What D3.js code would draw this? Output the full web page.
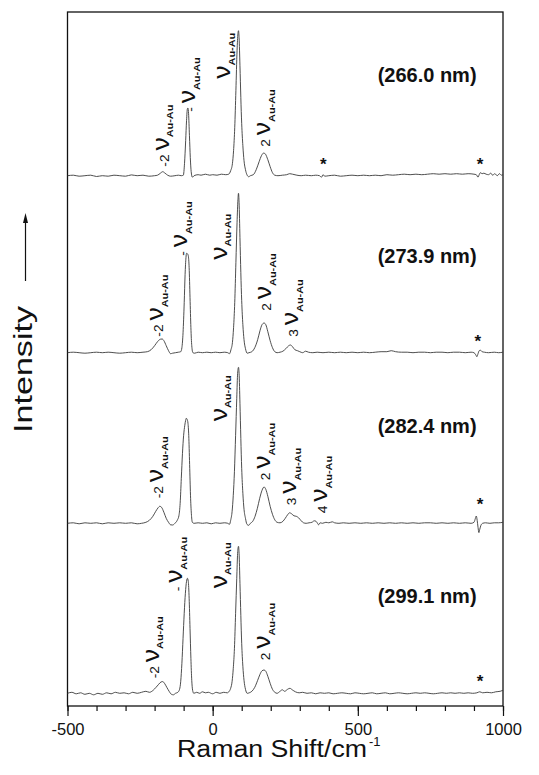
<!DOCTYPE html>
<html><head><meta charset="utf-8">
<script src="https://cdn.jsdelivr.net/npm/d3@7/dist/d3.min.js"></script>
<style>
html,body{margin:0;padding:0;background:#fff;}
svg{display:block;font-family:"Liberation Sans",Arial,Helvetica,sans-serif;}
</style></head>
<body><svg id="c" width="539" height="775"></svg>
<script>
// ---------- data ----------
const wavelengths = ["(266.0 nm)", "(273.9 nm)", "(282.4 nm)", "(299.1 nm)"];
const offsets = [5.303, 3.533, 1.827, 0.127];   // vertical stacking offsets (a.u.)
const wlHeights = [0.937, 0.897, 0.903, 0.903]; // wavelength label height above each baseline
const majorTicks = [-500, 0, 500, 1000];
const minorTicks = [-500,-400,-300,-200,-100,0,100,200,300,400,500,600,700,800,900,1000];

// [Raman shift (cm-1), intensity above baseline (a.u.)]
const spec266 = [[-500,0],[-480,0.005],[-460,-0.005],[-440,0],[-420,0.005],[-400,-0.008],[-380,0],[-360,-0.005],[-340,0.005],[-320,0],[-300,-0.005],[-280,0.008],[-260,0],[-240,0.005],[-220,-0.005],[-200,0],[-190,0.005],[-180,0.025],[-172,0.04],[-164,0.025],[-155,0.005],[-145,-0.005],[-130,0],[-118,0.005],[-108,0],[-101,0.005],[-97,0.12],[-93,0.35],[-90,0.55],[-87,0.67],[-85,0.677],[-83,0.62],[-80,0.4],[-77,0.18],[-74,0.04],[-70,-0.015],[-64,0],[-50,0.01],[-40,0.005],[-25,0.015],[-10,0.005],[0,0.01],[15,0.005],[30,0.015],[45,0.01],[55,0.015],[62,0.05],[68,0.12],[72,0.25],[76,0.48],[80,0.85],[84,1.25],[87,1.42],[89,1.45],[91,1.38],[94,1.1],[97,0.78],[100,0.52],[104,0.3],[108,0.15],[113,0.06],[118,0.01],[124,-0.01],[130,0],[140,0.01],[150,0.06],[160,0.14],[168,0.2],[176,0.227],[182,0.215],[190,0.16],[198,0.09],[206,0.03],[214,0.005],[225,0],[240,0.005],[255,0.01],[265,0.02],[275,0.015],[290,0.005],[305,0],[320,0.005],[340,0],[355,0.005],[368,0],[375,-0.015],[380,0.01],[386,-0.005],[400,0],[420,0.005],[440,-0.005],[460,0],[480,0.005],[500,0],[520,0.005],[540,0],[560,0.005],[580,0],[600,0.01],[620,0.005],[640,0.01],[660,0.015],[680,0.01],[700,0.015],[720,0.01],[740,0.015],[760,0.02],[780,0.015],[800,0.02],[820,0.015],[840,0.02],[860,0.015],[880,0.02],[900,0.015],[908,0.01],[914,-0.015],[918,0.01],[922,0.03],[928,0.02],[934,0.025],[942,0.015],[950,0.01],[958,0.025],[964,0.005],[972,0.02],[980,0],[988,0.02],[995,0.005],[1000,0.01]];

const spec273 = [[-500,0],[-480,0.005],[-460,0],[-440,-0.005],[-420,0],[-400,0.005],[-380,0],[-360,0.005],[-340,0],[-320,-0.005],[-300,0],[-280,0.005],[-260,0],[-240,0.005],[-225,0.01],[-212,0.03],[-200,0.07],[-190,0.11],[-180,0.135],[-174,0.137],[-168,0.12],[-160,0.07],[-152,0.02],[-145,-0.01],[-138,-0.005],[-128,0],[-118,0.005],[-110,0.01],[-106,0.05],[-102,0.2],[-98,0.5],[-95,0.78],[-92,0.95],[-90,0.994],[-87,0.99],[-84,0.97],[-81,0.85],[-78,0.55],[-75,0.25],[-72,0.07],[-68,0],[-62,-0.005],[-50,0.005],[-35,0],[-20,0.005],[-5,0],[10,0.005],[25,0],[40,0.005],[52,0],[58,-0.01],[63,0.03],[68,0.1],[72,0.25],[76,0.5],[80,0.9],[84,1.3],[87,1.53],[89,1.594],[91,1.5],[94,1.15],[97,0.8],[100,0.52],[104,0.28],[108,0.13],[113,0.04],[119,-0.005],[125,0],[135,0.01],[145,0.05],[155,0.13],[163,0.22],[170,0.28],[177,0.297],[183,0.28],[190,0.21],[198,0.12],[206,0.05],[214,0.01],[222,0],[232,0.005],[242,0.015],[252,0.04],[262,0.07],[268,0.077],[275,0.06],[283,0.03],[292,0.02],[300,0.01],[310,0],[320,0.015],[330,0.005],[345,0],[360,0.005],[380,0],[400,0.005],[420,0],[440,0.005],[460,0],[480,0.005],[500,0],[520,0.005],[540,0],[560,0.005],[580,0.01],[600,0.01],[615,0.02],[630,0.01],[650,0.005],[670,0.005],[690,0],[710,0.005],[730,0.005],[750,0],[770,0.005],[790,0.005],[810,0],[830,0.005],[850,0.005],[870,0],[890,0.005],[900,0],[906,-0.02],[910,-0.04],[914,-0.01],[918,0.02],[922,0.025],[928,0.01],[936,0.005],[950,0],[970,0.005],[985,0],[1000,0.005]];

const spec282 = [[-500,0],[-480,0.005],[-460,-0.005],[-440,0.005],[-420,0],[-400,0.005],[-380,-0.005],[-360,0.005],[-340,0],[-320,0.005],[-300,0],[-280,0.005],[-260,-0.005],[-245,0],[-230,0.01],[-218,0.03],[-206,0.07],[-196,0.12],[-188,0.155],[-182,0.17],[-176,0.16],[-168,0.11],[-160,0.05],[-152,0.01],[-145,-0.015],[-138,-0.017],[-130,0],[-122,0.03],[-116,0.08],[-112,0.2],[-108,0.45],[-104,0.7],[-100,0.88],[-96,0.98],[-93,1.03],[-91,1.05],[-88,1.04],[-85,1.0],[-82,0.85],[-79,0.55],[-76,0.25],[-73,0.08],[-70,0.01],[-64,0],[-50,0.005],[-35,0],[-20,0.005],[-5,-0.005],[10,0.005],[25,0],[40,0.005],[52,0],[58,-0.01],[62,0.03],[67,0.12],[71,0.28],[75,0.52],[79,0.88],[83,1.25],[86,1.5],[89,1.56],[91,1.5],[94,1.2],[97,0.85],[100,0.55],[104,0.3],[108,0.14],[113,0.05],[118,-0.01],[124,-0.02],[130,0],[138,0.02],[146,0.07],[154,0.15],[162,0.25],[170,0.33],[177,0.363],[183,0.34],[190,0.27],[198,0.17],[206,0.09],[214,0.035],[222,0.01],[232,0.005],[242,0.02],[250,0.05],[258,0.085],[265,0.105],[272,0.095],[280,0.075],[288,0.07],[296,0.055],[305,0.025],[313,0.005],[322,0],[332,0.005],[342,0.01],[350,0.025],[356,0.02],[360,0.005],[365,-0.015],[370,0.005],[378,0],[390,0.01],[400,0.005],[412,0.015],[420,0.005],[435,0],[450,0.005],[470,0],[490,0.005],[510,0],[530,0.005],[550,0],[570,0.005],[590,0],[610,0.005],[630,0],[650,0.005],[670,0],[690,0.005],[710,0],[730,0.005],[750,0.005],[770,0],[790,0.005],[810,0],[830,0.005],[850,0],[870,0.005],[890,0],[900,0.01],[905,0.05],[908,0.073],[911,0.03],[914,-0.04],[917,-0.093],[920,-0.06],[924,-0.02],[930,0],[940,0.005],[955,0],[970,0.005],[985,0.005],[1000,0.01]];

const spec299 = [[-500,0],[-485,0.01],[-470,-0.005],[-455,0.005],[-440,-0.01],[-425,0],[-410,-0.015],[-395,0],[-380,-0.01],[-365,0.005],[-350,-0.005],[-335,0.01],[-320,0],[-305,0.005],[-290,-0.005],[-275,0.01],[-260,0],[-245,0.01],[-230,0.02],[-218,0.01],[-205,0.03],[-195,0.06],[-186,0.09],[-178,0.113],[-172,0.117],[-166,0.1],[-158,0.06],[-150,0.02],[-142,-0.01],[-135,-0.015],[-128,0],[-120,0.01],[-114,0.04],[-110,0.12],[-106,0.3],[-102,0.55],[-98,0.8],[-94,1.0],[-90,1.12],[-87,1.15],[-84,1.12],[-81,0.95],[-78,0.65],[-75,0.35],[-72,0.13],[-69,0.03],[-65,0],[-55,0.01],[-45,0],[-35,0.015],[-25,0.005],[-15,0.01],[0,-0.005],[12,0.01],[25,0],[38,0.01],[50,0.005],[57,0.02],[62,0.05],[67,0.12],[71,0.25],[75,0.45],[79,0.8],[83,1.15],[86,1.4],[89,1.47],[91,1.4],[94,1.1],[97,0.78],[100,0.5],[104,0.27],[108,0.13],[113,0.04],[119,0],[126,0.005],[135,0.02],[145,0.06],[155,0.13],[163,0.19],[170,0.225],[177,0.233],[183,0.22],[190,0.17],[198,0.1],[206,0.04],[214,0.01],[222,0],[232,0.02],[240,0.035],[248,0.02],[258,0.04],[266,0.05],[274,0.035],[285,0.015],[298,0.005],[310,0.01],[325,0],[340,0.005],[355,-0.005],[370,0.005],[385,0],[400,0.005],[415,-0.005],[430,0],[445,0.005],[460,0],[475,-0.005],[490,0.005],[505,0],[520,-0.005],[535,0],[550,0.005],[565,-0.005],[580,0],[595,0.005],[610,-0.005],[625,0],[640,0.005],[655,0],[670,-0.005],[685,0],[700,0.005],[715,0],[730,0.005],[745,0],[760,-0.005],[775,0],[790,0.005],[805,0],[820,0.005],[835,0],[850,0.005],[865,0],[880,0.005],[895,0],[910,0.005],[920,0.015],[930,0.005],[945,0.01],[960,0.005],[975,0.015],[990,0.02],[1000,0.03]];

const spectra = [spec266, spec273, spec282, spec299];

// peak annotations: spectrum index, prefix, shift (baseline of rotated text), height where text starts
const peakLabels = [
  {s:0, pre:"-2 ", x:-152, y:0.09},
  {s:0, pre:"- ",  x:-60,  y:0.64},
  {s:0, pre:"",    x:61,   y:0.97},
  {s:0, pre:"2 ",  x:198,  y:0.29},
  {s:1, pre:"-2 ", x:-170, y:0.16},
  {s:1, pre:"- ",  x:-88,  y:0.97},
  {s:1, pre:"",    x:49,   y:0.93},
  {s:1, pre:"2 ",  x:201,  y:0.42},
  {s:1, pre:"3 ",  x:294,  y:0.16},
  {s:2, pre:"-2 ", x:-170, y:0.25},
  {s:2, pre:"",    x:49,   y:1.02},
  {s:2, pre:"2 ",  x:198,  y:0.43},
  {s:2, pre:"3 ",  x:288,  y:0.18},
  {s:2, pre:"4 ",  x:395,  y:0.10},
  {s:3, pre:"-2 ", x:-186, y:0.15},
  {s:3, pre:"- ",  x:-105, y:1.02},
  {s:3, pre:"",    x:49,   y:1.05},
  {s:3, pre:"2 ",  x:198,  y:0.33}
];
const stars = [
  {s:0, x:381, y:0.157}, {s:0, x:921, y:0.157},
  {s:1, x:913, y:0.16},
  {s:2, x:921, y:0.233},
  {s:3, x:921, y:0.166}
];
const wlShift = 909;   // right edge of wavelength labels (cm-1)

// ---------- chart ----------
const svg = d3.select("#c");
const x = d3.scaleLinear().domain([-500, 1000]).range([67.5, 503]);
const y = d3.scaleLinear().domain([0, 6.94]).range([706, 12]);

// frame
svg.append("rect").attr("x", x(-500)).attr("y", y(6.94))
  .attr("width", x(1000) - x(-500)).attr("height", y(0) - y(6.94))
  .attr("fill", "none").attr("stroke", "#111").attr("stroke-width", 1.3);

// axes
const minor = svg.append("g").attr("transform", `translate(0,${y(0)})`)
  .call(d3.axisBottom(x).tickValues(minorTicks).tickSize(5).tickFormat(""));
const major = svg.append("g").attr("transform", `translate(0,${y(0)})`)
  .call(d3.axisBottom(x).tickValues(majorTicks).tickSize(10).tickPadding(7).tickFormat(d => String(d)));
[minor, major].forEach(g => {
  g.select(".domain").remove();
  g.selectAll("line").attr("stroke", "#111").attr("stroke-width", 1.2);
});
major.selectAll("text").attr("font-size", 16.5).attr("fill", "#111")
  .attr("font-family", '"Liberation Sans",Arial,sans-serif');

// spectra
const line = (off) => d3.line().x(d => x(d[0])).y(d => y(off + d[1])).curve(d3.curveMonotoneX);
spectra.forEach((sp, i) => {
  svg.append("path").datum(sp).attr("d", line(offsets[i]))
    .attr("fill", "none").attr("stroke", "#3a3a3a").attr("stroke-width", 0.9);
});

// wavelength labels
wavelengths.forEach((w, i) => {
  svg.append("text").attr("x", x(wlShift)).attr("y", y(offsets[i] + wlHeights[i]))
    .attr("text-anchor", "end").attr("font-size", 20).attr("font-weight", "bold")
    .attr("fill", "#111").text(w);
});

// peak labels
peakLabels.forEach(L => {
  const t = svg.append("text")
    .attr("transform", `translate(${x(L.x)},${y(offsets[L.s] + L.y)}) rotate(-90) scale(1.15,1)`)
    .attr("fill", "#111");
  if (L.pre) t.append("tspan").attr("font-size", 12).text(L.pre);
  t.append("tspan").attr("font-size", 23).text("ν");
  t.append("tspan").attr("font-size", 9.5).attr("font-weight", "bold").attr("dy", 4.5).text("Au-Au");
});

// stars
stars.forEach(s => {
  svg.append("text").attr("x", x(s.x)).attr("y", y(offsets[s.s] + s.y)).attr("dy", "0.58em")
    .attr("text-anchor", "middle").attr("font-size", 17).attr("font-weight", "bold")
    .attr("fill", "#111").text("*");
});

// y-axis title with arrow
svg.append("text").attr("transform", "translate(32,433) rotate(-90)")
  .attr("font-size", 25).attr("textLength", 127).attr("lengthAdjust", "spacingAndGlyphs")
  .attr("fill", "#111").text("Intensity");
svg.append("line").attr("x1", 25.5).attr("x2", 25.5).attr("y1", 281).attr("y2", 221)
  .attr("stroke", "#111").attr("stroke-width", 1.2);
svg.append("path").attr("d", "M25.5,213 L23,223 L28,223 Z").attr("fill", "#111");

// x-axis title
svg.append("text").attr("x", 177).attr("y", 757).attr("fill", "#111")
  .attr("font-size", 23.5).attr("textLength", 190).attr("lengthAdjust", "spacingAndGlyphs")
  .text("Raman Shift/cm");
svg.append("text").attr("x", 369).attr("y", 746).attr("font-size", 13).attr("fill", "#111").text("-1");
</script></body></html>
